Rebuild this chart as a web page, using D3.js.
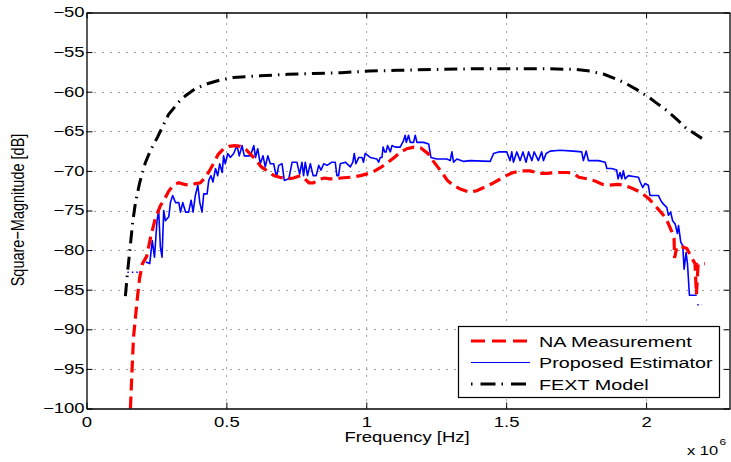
<!DOCTYPE html>
<html>
<head>
<meta charset="utf-8">
<script src="https://cdn.jsdelivr.net/npm/d3@7"></script>
<style>
  body { margin: 0; background: #fff; }
  svg { display: block; font-family: "Liberation Sans", Arial, sans-serif; }
</style>
</head>
<body>
<div id="chart"></div>
<script>
// frequency in units of 1e6 Hz, magnitude in dB
var xTicks = [0, 0.5, 1, 1.5, 2];
var yTicks = [-100, -95, -90, -85, -80, -75, -70, -65, -60, -55, -50];

var seriesNames = ["NA Measurement", "Proposed Estimator", "FEXT Model"];

var naPoints = [[0.157,-100],[0.163,-95],[0.168,-91],[0.175,-88.5],[0.182,-86],[0.19,-83.5],[0.2,-81.7],
  [0.215,-80.8],[0.229,-78.4],[0.246,-76],[0.264,-74.4],[0.28,-73.5],[0.293,-72.6],[0.31,-71.8],[0.329,-71.5],
  [0.35,-71.7],[0.371,-71.8],[0.39,-71.6],[0.407,-71.5],[0.42,-71],[0.436,-70.2],[0.455,-69],[0.471,-67.9],
  [0.49,-67.2],[0.51,-66.9],[0.53,-66.8],[0.55,-66.9],[0.57,-67.3],[0.6,-68.4],[0.625,-69.5],[0.646,-70],
  [0.67,-70.6],[0.69,-70.8],[0.718,-71],[0.74,-70.9],[0.764,-70.6],[0.78,-71],[0.795,-71.5],[0.811,-71.5],
  [0.83,-71.1],[0.85,-70.9],[0.87,-71],[0.882,-71],[0.91,-70.9],[0.943,-70.8],[0.98,-70.6],[1.02,-70.2],
  [1.05,-69.6],[1.075,-69],[1.1,-68.3],[1.12,-67.7],[1.145,-67.2],[1.17,-67],[1.195,-67.1],[1.22,-67.8],
  [1.24,-68.8],[1.264,-69.9],[1.29,-71.2],[1.31,-71.8],[1.336,-72.3],[1.37,-72.7],[1.395,-72.5],[1.42,-72.1],
  [1.45,-71.6],[1.48,-71],[1.5,-70.6],[1.525,-70.2],[1.555,-70],[1.585,-70],[1.62,-70.3],[1.646,-70.3],
  [1.69,-70.2],[1.72,-70.2],[1.74,-70.3],[1.76,-70.8],[1.79,-71],[1.82,-71.3],[1.845,-71.7],[1.87,-71.8],
  [1.9,-71.7],[1.92,-71.8],[1.95,-72.2],[1.98,-72.7],[2.01,-73.5],[2.04,-74.7],[2.06,-75.5],[2.075,-76.3],
  [2.09,-77.5],[2.1,-78.5],[2.102,-81],[2.11,-79.6],[2.13,-79.6],[2.146,-79.8],[2.16,-80.8],[2.175,-81.7],
  [2.18,-85.6],[2.186,-81.8],[2.21,-81.7]];

var estPoints = [[0.212,-81.5],[0.226,-81.7],[0.235,-78.8],[0.243,-80.9],[0.252,-76.3],[0.258,-75],[0.264,-79.6],
  [0.27,-80.9],[0.276,-75],[0.282,-76.3],[0.294,-75.8],[0.3,-74],[0.308,-73.1],[0.318,-74],[0.33,-74],
  [0.336,-75.2],[0.344,-74],[0.354,-75.2],[0.365,-75.2],[0.374,-73.7],[0.381,-75.2],[0.389,-73.1],[0.398,-71.8],
  [0.405,-74],[0.413,-75.2],[0.419,-72.9],[0.431,-72.9],[0.437,-71.2],[0.445,-70.6],[0.452,-71.4],[0.461,-69.7],
  [0.469,-70.6],[0.476,-69.1],[0.485,-70.2],[0.49,-68.1],[0.496,-69.1],[0.505,-67.8],[0.514,-68.3],[0.526,-67.8],
  [0.538,-66.8],[0.546,-68.1],[0.556,-66.8],[0.564,-68.1],[0.586,-68.1],[0.598,-66.8],[0.604,-68.3],[0.612,-67.2],
  [0.621,-69.1],[0.631,-68.1],[0.639,-69.5],[0.648,-68.1],[0.657,-69.1],[0.669,-69.1],[0.679,-70.8],[0.687,-69.3],
  [0.699,-69.1],[0.707,-71.2],[0.723,-71],[0.735,-68.9],[0.752,-68.9],[0.762,-70.4],[0.77,-68.9],[0.776,-70.6],
  [0.782,-68.9],[0.79,-70.6],[0.8,-69.1],[0.81,-70.6],[0.821,-70.6],[0.83,-69.3],[0.838,-69.9],[0.848,-69.1],
  [0.86,-69.3],[0.877,-68.9],[0.889,-68.9],[0.895,-70.6],[0.901,-70.6],[0.907,-69.1],[0.925,-68.9],[0.943,-69.5],
  [0.952,-68.9],[0.957,-67.8],[0.963,-69.1],[0.973,-68.3],[0.985,-68.3],[0.99,-68.9],[0.996,-67.8],[1.014,-68.3],
  [1.038,-68.5],[1.044,-68.9],[1.05,-68.3],[1.056,-68.3],[1.06,-67],[1.066,-67.6],[1.071,-67.6],[1.076,-66.8],
  [1.086,-67.6],[1.092,-66.8],[1.104,-67],[1.121,-67],[1.133,-66.2],[1.139,-65.5],[1.143,-66.4],[1.151,-65.5],
  [1.157,-66.4],[1.169,-66.4],[1.175,-65.5],[1.181,-66.4],[1.205,-66.4],[1.223,-66.6],[1.231,-68.3],[1.252,-68.5],
  [1.288,-68.5],[1.3,-68.7],[1.306,-67.6],[1.312,-68.9],[1.324,-68.5],[1.348,-68.8],[1.371,-68.7],[1.443,-68.8],
  [1.455,-67.8],[1.473,-67.6],[1.502,-67.6],[1.514,-68.7],[1.52,-67.6],[1.526,-68.9],[1.538,-67.6],[1.55,-68.7],
  [1.56,-67.6],[1.571,-68.9],[1.58,-67.6],[1.592,-68.7],[1.6,-67.6],[1.615,-68.7],[1.627,-67.6],[1.633,-68.7],
  [1.643,-67.8],[1.657,-67.5],[1.693,-67.4],[1.74,-67.5],[1.77,-67.6],[1.776,-68.7],[1.786,-67.5],[1.794,-68.7],
  [1.83,-68.7],[1.854,-68.9],[1.86,-69.7],[1.877,-69.7],[1.895,-69.9],[1.9,-71],[1.907,-70.2],[1.913,-71],
  [1.919,-70],[1.925,-71],[1.937,-70.6],[1.955,-70.7],[1.973,-70.8],[1.979,-71.4],[1.988,-72.1],[1.996,-71.6],
  [2.008,-71.8],[2.014,-73.1],[2.044,-73.1],[2.052,-73.7],[2.062,-74.2],[2.074,-74.6],[2.08,-75.6],[2.088,-75.2],
  [2.095,-76.3],[2.104,-76.7],[2.112,-77.9],[2.116,-76.9],[2.124,-79],[2.131,-79.4],[2.136,-82.4],[2.143,-80.3],
  [2.148,-81.7],[2.155,-85.7],[2.181,-85.7]];

// sparse (dotted) pieces of the estimator at both ends
var estStart = [[0.146,-82.8],[0.19,-82.8]];
var estEnd = [[2.183,-86.9],[2.2,-86.9]];

var fextPoints = [[0.139,-85.8],[0.146,-83],[0.155,-80],[0.165,-76.5],[0.175,-74],[0.19,-71.5],[0.21,-69],
  [0.23,-67.3],[0.253,-65.8],[0.293,-62.9],[0.33,-61.3],[0.354,-60.5],[0.39,-59.6],[0.432,-59],[0.48,-58.5],
  [0.525,-58.2],[0.62,-58],[0.72,-57.8],[0.81,-57.7],[0.91,-57.6],[1.01,-57.4],[1.11,-57.3],[1.24,-57.2],
  [1.4,-57.1],[1.54,-57.1],[1.65,-57.1],[1.75,-57.2],[1.8,-57.4],[1.85,-57.8],[1.9,-58.5],[1.93,-59],
  [1.97,-59.8],[2.01,-60.7],[2.04,-61.5],[2.075,-62.4],[2.11,-63.5],[2.14,-64.5],[2.17,-65.2],[2.2,-65.9]];

function init() {
    var width = 731;
    var height = 462;
    var left = 86.5, right = 729.5, top = 12.5, bottom = 408.5;
    var SX = 1.32; // text in the picture is stretched sideways

    var svg = d3.select("#chart")
                .append("svg")
                .attr("width", width)
                .attr("height", height);

    var xScale = d3.scaleLinear().domain([0, 2.3]).range([left, right + 0.5]);
    var yScale = d3.scaleLinear().domain([-100, -50]).range([bottom, top]);

    // dotted grid
    var grid = svg.append("g")
        .attr("stroke", "#444")
        .attr("stroke-width", 1)
        .attr("stroke-dasharray", "1,7");
    grid.selectAll("line.gx")
        .data(xTicks.filter(function(d) { return d > 0; }))
        .enter().append("line")
        .attr("x1", function(d) { return Math.round(xScale(d)) + 0.5; })
        .attr("x2", function(d) { return Math.round(xScale(d)) + 0.5; })
        .attr("y1", bottom).attr("y2", top);
    grid.selectAll("line.gy")
        .data(yTicks.filter(function(d) { return d > -100 && d < -50; }))
        .enter().append("line")
        .attr("y1", function(d) { return Math.round(yScale(d)) + 0.5; })
        .attr("y2", function(d) { return Math.round(yScale(d)) + 0.5; })
        .attr("x1", left).attr("x2", right);

    var line = d3.line()
        .x(function(d) { return xScale(d[0]); })
        .y(function(d) { return yScale(d[1]); });

    // Proposed Estimator
    svg.append("path").datum(estPoints)
        .attr("d", line).attr("fill", "none")
        .attr("stroke", "#0000ff").attr("stroke-width", 1.6)
        .attr("stroke-linejoin", "round");
    [estStart, estEnd].forEach(function(p) {
        svg.append("path").datum(p)
            .attr("d", line).attr("fill", "none")
            .attr("stroke", "#0000ff").attr("stroke-width", 1.5)
            .attr("stroke-dasharray", "1.5,3");
    });

    // NA Measurement
    svg.append("path").datum(naPoints)
        .attr("d", line).attr("fill", "none")
        .attr("stroke", "#ff0000").attr("stroke-width", 3.2)
        .attr("stroke-dasharray", "12,6");

    // FEXT Model
    svg.append("path").datum(fextPoints)
        .attr("d", line).attr("fill", "none")
        .attr("stroke", "#000").attr("stroke-width", 3)
        .attr("stroke-dasharray", "13,6,1.5,6");

    // axes, ticks pointing inward
    var fmtX = function(d) { return d3.format("")(d); };
    var gx = svg.append("g")
        .attr("transform", "translate(0," + bottom + ")")
        .call(d3.axisBottom(xScale).tickValues(xTicks).tickSize(-6).tickSizeOuter(0).tickPadding(9).tickFormat(fmtX));
    var gy = svg.append("g")
        .attr("transform", "translate(" + left + ",0)")
        .call(d3.axisLeft(yScale).tickValues(yTicks).tickSize(-6).tickSizeOuter(0).tickPadding(2));
    svg.append("g")
        .attr("transform", "translate(0," + top + ")")
        .call(d3.axisTop(xScale).tickValues(xTicks).tickSize(-6).tickSizeOuter(0).tickFormat(""));
    svg.append("g")
        .attr("transform", "translate(" + right + ",0)")
        .call(d3.axisRight(yScale).tickValues(yTicks).tickSize(-6).tickSizeOuter(0).tickFormat(""));

    svg.selectAll(".domain").attr("stroke", "#000").attr("stroke-width", 1.3);
    svg.selectAll(".tick line").attr("stroke", "#000");
    svg.selectAll(".tick text")
        .attr("fill", "#000")
        .style("font-size", "14px")
        .style("font-family", "'Liberation Sans', Arial, sans-serif");
    gy.selectAll(".tick text").attr("x", -2 / SX).attr("transform", "scale(" + SX + ",1)");
    gx.selectAll(".tick text").attr("transform", "scale(" + SX + ",1)");

    function label(x, y, str, size, anchor, rotate) {
        var g = svg.append("g")
            .attr("transform", "translate(" + x + "," + y + ") scale(" + SX + ",1)" + (rotate ? " rotate(-90)" : ""));
        return g.append("text")
            .attr("text-anchor", anchor)
            .style("font-size", size + "px")
            .attr("fill", "#000")
            .text(str);
    }

    label(407, 442, "Frequency [Hz]", 14, "middle");
    label(24, 210, "Square\u2212Magnitude [dB]", 14.5, "middle", true);
    label(687, 455, "x 10", 12.5, "start");
    label(719.5, 445, "6", 9, "start");

    // legend
    var lg = svg.append("g");
    lg.append("rect")
        .attr("x", 458.5).attr("y", 326.5)
        .attr("width", 261).attr("height", 71)
        .attr("fill", "#fff").attr("stroke", "#000").attr("stroke-width", 1.2);
    var styles = [
        { color: "#ff0000", width: 3, dash: "14,7" },
        { color: "#0000ff", width: 1.2, dash: null },
        { color: "#000", width: 3, dash: "1.5,8,15,6" }
    ];
    seriesNames.forEach(function(name, i) {
        var yy = 341 + i * 21.5;
        lg.append("line")
            .attr("x1", 471).attr("x2", 530)
            .attr("y1", yy).attr("y2", yy)
            .attr("stroke", styles[i].color)
            .attr("stroke-width", styles[i].width)
            .attr("stroke-dasharray", styles[i].dash);
        label(539, yy + 5.5, name, 15, "start");
    });
}

window.onload = init;
</script>
</body>
</html>
